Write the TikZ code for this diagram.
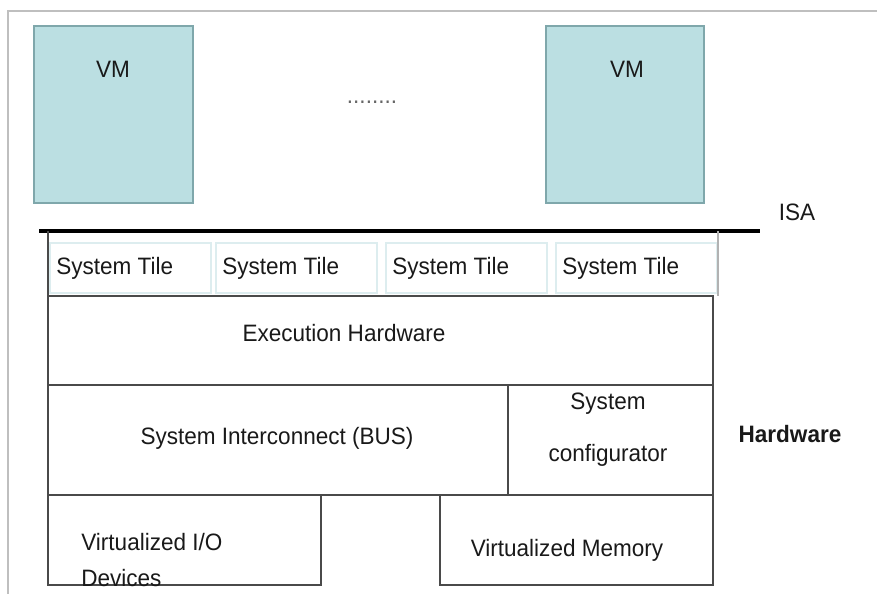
\documentclass[tikz,border=0pt]{standalone}
\usepackage{fontspec}
\setmainfont{Liberation Sans}[FakeStretch=0.95]
\definecolor{vmfill}{HTML}{BBDFE2}
\definecolor{vmline}{HTML}{7FA7AB}
\definecolor{tileline}{HTML}{DDEDEF}
\definecolor{boxline}{HTML}{4A4A4A}
\tikzset{lbl/.style={font=\fontsize{13.5}{15}\selectfont, text=black!90, inner sep=0pt}}

\begin{document}
\begin{tikzpicture}[x=0.02cm, y=-0.02cm]
		%%%%% START %%%%%
		\useasboundingbox (0, 0) rectangle (877, 594);
		
		\draw[line width=0.6pt, color=black!25] (877, 11) -- (8, 11) -- (8, 594);
		
		\draw[line width=0.8pt, draw=vmline, fill=vmfill] (34, 26) rectangle (193, 203);
		\node[lbl] (vmA) at (113, 69) {VM};
		\draw[line width=0.8pt, draw=vmline, fill=vmfill] (546, 26) rectangle (704, 203);
		\node[lbl] (vmB) at (627, 69) {VM};
		\node[lbl, text=black!60] (dots) at (372, 102) {........};
		
		\node[lbl] (isa) at (797, 212) {ISA};
		\draw[line width=1.8pt] (39, 231) -- (760, 231);
		
		\foreach \x/\n in {50/1, 216/2, 386/3, 556/4}{
			\draw[line width=0.6pt, color=tileline] (\x, 243) rectangle ++(161, 50);
			\node[lbl, anchor=west] (tile\n) at (\x+6, 268) {System Tile};
		}
		\draw[line width=0.6pt, color=boxline] (48, 231) -- (48, 296);
		\draw[line width=0.6pt, color=black!30] (718, 231) -- (718, 296);
		
		\draw[line width=0.6pt, color=boxline] (48, 296) rectangle (713, 385);
		\node[lbl] (exec) at (344, 333) {Execution Hardware};
		
		\draw[line width=0.6pt, color=boxline] (48, 385) rectangle (508, 495);
		\node[lbl] (bus) at (277, 438) {System Interconnect (BUS)};
		\draw[line width=0.6pt, color=boxline] (508, 385) rectangle (713, 495);
		\node[lbl] (cfgA) at (608, 404) {System};
		\node[lbl] (cfgB) at (608, 455) {configurator};
		\node[lbl, font=\fontsize{13.5}{15}\selectfont\bfseries] (hw) at (790, 434) {Hardware};
		
		\draw[line width=0.6pt, color=boxline] (48, 495) rectangle (321, 585);
		\node[lbl, anchor=west] (ioA) at (81, 542) {Virtualized I/O};
		\node[lbl, anchor=west] (ioB) at (81, 578) {Devices};
		\draw[line width=0.6pt, color=boxline] (440, 495) rectangle (713, 585);
		\node[lbl] (mem) at (567, 550) {Virtualized Memory};
		
		%%%%% END %%%%%
\end{tikzpicture}
\end{document}
